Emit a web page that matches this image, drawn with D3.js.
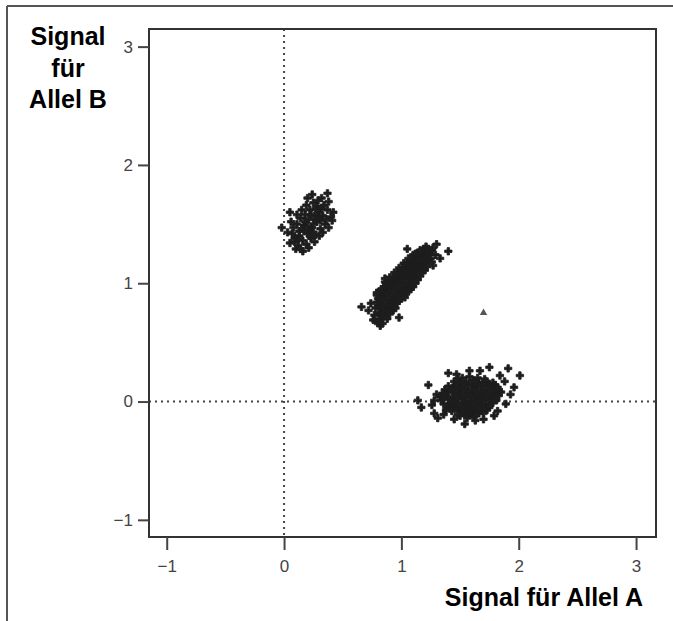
<!DOCTYPE html>
<html>
<head>
<meta charset="utf-8">
<script src="https://cdn.jsdelivr.net/npm/d3@7"></script>
<style>
  body { margin: 0; background: #fff; }
  text { font-family: "Liberation Sans", Arial, Helvetica, sans-serif; }
</style>
</head>
<body>
<div id="chart"></div>
<script>
// genotype clusters: [signal allele A, signal allele B]
const clusterBB = [
    [0.37,1.76],[0.32,1.72],[0.20,1.72],[0.05,1.60],[-0.02,1.47],[0.16,1.27],[0.10,1.29],[0.41,1.53],
    [0.42,1.60],[0.07,1.42],[0.05,1.34],[0.25,1.68],[0.28,1.65],[0.34,1.66],[0.38,1.69],[0.30,1.60],
    [0.22,1.62],[0.18,1.58],[0.26,1.57],[0.33,1.57],[0.37,1.62],[0.14,1.55],[0.21,1.54],[0.28,1.52],
    [0.35,1.50],[0.11,1.50],[0.17,1.49],[0.24,1.47],[0.31,1.46],[0.38,1.47],[0.13,1.44],[0.20,1.42],
    [0.27,1.41],[0.09,1.38],[0.16,1.36],[0.23,1.38],[0.30,1.40],[0.12,1.32],[0.19,1.33],[0.26,1.35],
    [0.08,1.47],[0.15,1.62],[0.24,1.75],[0.29,1.70],[0.40,1.56],[0.33,1.43],[0.06,1.52],[0.13,1.40],
    [0.22,1.45],[0.27,1.63],[0.19,1.66],[0.36,1.54],[0.03,1.43],[0.11,1.58],[0.17,1.44],[0.25,1.50],
    [0.31,1.53],[0.09,1.35],[0.21,1.30],[0.14,1.29],[0.23,1.58],[0.29,1.56],[0.18,1.52],[0.25,1.43],
    [0.20,1.48],[0.27,1.54],[0.15,1.46],[0.22,1.40],[0.32,1.63],[0.12,1.37]
];

const clusterAB = [
    [0.78,0.79],[0.79,0.84],[0.77,0.73],[0.80,0.81],[0.81,0.75],[0.80,0.87],[0.82,0.83],[0.83,0.78],
    [0.82,0.89],[0.83,0.71],[0.84,0.86],[0.85,0.80],[0.85,0.91],[0.84,0.75],[0.86,0.88],[0.87,0.82],
    [0.86,0.93],[0.87,0.77],[0.88,0.90],[0.89,0.84],[0.88,0.95],[0.89,0.79],[0.90,0.92],[0.91,0.86],
    [0.90,0.97],[0.91,0.82],[0.92,0.94],[0.93,0.88],[0.92,0.99],[0.93,0.84],[0.94,0.96],[0.95,0.90],
    [0.94,1.01],[0.95,0.86],[0.96,0.98],[0.97,0.92],[0.96,1.03],[0.97,0.89],[0.98,1.00],[0.99,0.94],
    [0.98,1.05],[0.99,0.91],[1.00,1.02],[1.01,0.96],[1.00,1.07],[1.01,0.93],[1.02,1.04],[1.03,0.98],
    [1.02,1.09],[1.03,0.96],[1.04,1.06],[1.05,1.00],[1.04,1.11],[1.05,0.98],[1.06,1.08],[1.07,1.02],
    [1.06,1.13],[1.07,1.00],[1.08,1.10],[1.09,1.04],[1.08,1.15],[1.09,1.03],[1.10,1.12],[1.11,1.07],
    [1.10,1.17],[1.11,1.05],[1.12,1.14],[1.13,1.09],[1.12,1.19],[1.14,1.16],[1.15,1.11],[1.14,1.21],
    [1.16,1.18],[1.17,1.13],[1.16,1.23],[1.18,1.20],[1.19,1.15],[1.18,1.25],[1.20,1.22],[1.21,1.17],
    [1.20,1.27],[1.22,1.24],[1.23,1.19],[1.24,1.26],[1.25,1.21],
    [0.79,0.90],[0.78,0.68],[0.81,0.93],[0.82,0.69],[0.83,0.95],[0.84,0.70],[0.85,0.97],[0.86,0.73],
    [0.87,0.99],[0.88,0.75],[0.86,1.01],[0.89,1.01],[0.90,0.77],[0.91,1.03],[0.92,0.79],[0.90,1.05],
    [0.93,1.05],[0.94,0.81],[0.95,1.07],[0.96,0.83],[0.94,1.09],[0.97,1.09],[0.98,0.85],[0.99,1.11],
    [1.00,0.87],[0.98,1.13],[1.01,1.13],[1.02,0.89],[1.03,1.15],[1.04,0.91],[1.02,1.17],[1.05,1.17],
    [1.06,0.93],[1.07,1.19],[1.08,0.95],[1.06,1.21],[1.09,1.21],[1.10,0.97],[1.11,1.23],[1.12,1.00],
    [1.10,1.24],[1.13,1.25],[1.14,1.03],[1.15,1.26],[1.16,1.06],[1.17,1.27],[1.18,1.09],[1.19,1.29],
    [1.20,1.11],[1.22,1.14],[1.23,1.29],[1.26,1.18],[1.26,1.28],
    [1.30,1.33],[1.40,1.27],[1.05,1.29],[1.33,1.21],[0.66,0.80],[0.82,0.64],[0.98,0.71],[0.86,1.04],
    [0.76,0.69],[0.80,0.67],[0.93,0.77],[1.27,1.30],[1.21,1.31],[1.16,1.28],[0.74,0.83],[0.72,0.77],
    [0.90,0.74],[1.03,0.88],[1.27,1.15],[1.12,1.25],[0.88,0.70],[0.84,0.66],[0.79,0.92],[0.95,0.79],
    [1.29,1.24]
];

const clusterAA = [
    [1.52,0.20],[1.58,0.21],[1.65,0.20],[1.71,0.19],
    [1.45,0.17],[1.50,0.16],[1.55,0.17],[1.61,0.18],[1.66,0.16],[1.72,0.17],[1.78,0.16],
    [1.40,0.13],[1.46,0.14],[1.52,0.13],[1.57,0.14],[1.63,0.13],[1.68,0.14],[1.74,0.13],[1.80,0.14],
    [1.37,0.10],[1.43,0.11],[1.49,0.10],[1.54,0.11],[1.60,0.10],[1.65,0.11],[1.71,0.10],[1.77,0.11],[1.83,0.10],
    [1.35,0.07],[1.40,0.08],[1.46,0.07],[1.51,0.08],[1.57,0.07],[1.62,0.08],[1.68,0.07],[1.74,0.08],[1.80,0.07],[1.85,0.08],
    [1.33,0.04],[1.38,0.05],[1.44,0.04],[1.49,0.05],[1.55,0.04],[1.60,0.05],[1.66,0.04],[1.71,0.05],[1.77,0.04],[1.83,0.05],
    [1.34,0.01],[1.40,0.02],[1.46,0.01],[1.52,0.02],[1.58,0.01],[1.63,0.02],[1.69,0.01],[1.75,0.02],[1.81,0.01],
    [1.36,-0.02],[1.42,-0.01],[1.48,-0.02],[1.54,-0.01],[1.60,-0.02],[1.66,-0.01],[1.72,-0.02],[1.78,-0.01],
    [1.39,-0.05],[1.45,-0.04],[1.51,-0.05],[1.57,-0.04],[1.63,-0.05],[1.69,-0.04],[1.75,-0.05],
    [1.43,-0.08],[1.49,-0.07],[1.55,-0.08],[1.61,-0.07],[1.67,-0.08],[1.73,-0.07],
    [1.48,-0.11],[1.54,-0.10],[1.60,-0.11],[1.66,-0.10],
    [1.56,-0.14],[1.62,-0.13],
    [1.48,0.19],[1.60,0.15],[1.70,0.155],[1.43,0.09],[1.57,0.09],[1.69,0.085],[1.79,0.09],
    [1.36,0.03],[1.47,0.03],[1.61,0.03],[1.73,0.03],[1.41,-0.03],[1.57,-0.025],[1.69,-0.03],
    [1.46,-0.06],[1.59,-0.06],[1.71,-0.06],[1.52,-0.09],[1.64,-0.09],
    [1.54,0.15],[1.64,0.15],[1.75,0.15],[1.47,0.12],[1.51,0.06],[1.65,0.06],[1.76,0.06],
    [1.43,0.00],[1.55,0.00],[1.67,0.00],[1.79,0.03],[1.50,-0.03],[1.63,-0.03],[1.75,-0.03],
    [1.42,-0.06],[1.55,-0.05],[1.66,-0.06],[1.58,-0.10],[1.70,-0.10],[1.50,-0.12],[1.82,0.12],
    [2.01,0.22],[1.91,0.28],[1.23,0.14],[1.14,0.01],[1.17,-0.05],[1.31,-0.14],[1.54,-0.19],[1.63,-0.16],
    [1.40,0.24],[1.75,0.29],[1.28,-0.10],[1.26,-0.03],[1.84,0.22],[1.88,0.17],[1.93,0.06],[1.89,-0.02],
    [1.82,-0.08],[1.70,-0.15],[1.45,-0.15],[1.36,-0.11],[1.30,0.06],[1.28,0.01],[1.47,0.23],[1.67,0.26],
    [1.58,0.26],[1.79,-0.12],[1.38,-0.07],[1.96,0.12]
];

const outliers = [[1.70, 0.75]];

const tickValues = [-1, 0, 1, 2, 3];

const width = 673, height = 621;
const box = { left: 149, top: 29, right: 656, bottom: 537 };

const svg = d3.select("#chart")
    .append("svg")
    .attr("width", width)
    .attr("height", height);

// outer frame (only top and left edges visible)
svg.append("line")
    .attr("x1", 7).attr("y1", 6).attr("x2", width).attr("y2", 6)
    .attr("stroke", "#555").attr("stroke-width", 2);
svg.append("line")
    .attr("x1", 7).attr("y1", 6).attr("x2", 7).attr("y2", height)
    .attr("stroke", "#555").attr("stroke-width", 2);

const x = d3.scaleLinear()
    .domain([-1.151, 3.17])
    .range([box.left, box.right]);

const y = d3.scaleLinear()
    .domain([-1.145, 3.149])
    .range([box.bottom, box.top]);

// dotted reference lines at 0
svg.append("line")
    .attr("x1", x(0)).attr("x2", x(0))
    .attr("y1", box.top).attr("y2", box.bottom)
    .attr("stroke", "#444").attr("stroke-width", 2)
    .attr("stroke-dasharray", "2,4");
svg.append("line")
    .attr("x1", box.left).attr("x2", box.right)
    .attr("y1", y(0)).attr("y2", y(0))
    .attr("stroke", "#444").attr("stroke-width", 2)
    .attr("stroke-dasharray", "2,4");

// points
const cross = d3.symbol().type(d3.symbolCross).size(30);
const allPoints = clusterBB.concat(clusterAB, clusterAA);

svg.append("g")
    .selectAll("path")
    .data(allPoints)
    .enter()
    .append("path")
    .attr("d", cross)
    .attr("transform", d => `translate(${x(d[0])},${y(d[1])})`)
    .attr("fill", "#1e1e1e")
    .attr("stroke", "#1e1e1e")
    .attr("stroke-width", 0.8)
    .attr("stroke-linejoin", "round");

svg.append("g")
    .selectAll("path")
    .data(outliers)
    .enter()
    .append("path")
    .attr("d", d3.symbol().type(d3.symbolTriangle).size(24))
    .attr("transform", d => `translate(${x(d[0])},${y(d[1])})`)
    .attr("fill", "#555");

// plot box
svg.append("rect")
    .attr("x", box.left)
    .attr("y", box.top)
    .attr("width", box.right - box.left)
    .attr("height", box.bottom - box.top)
    .attr("fill", "none")
    .attr("stroke", "#333")
    .attr("stroke-width", 2);

// axes
const fmt = d3.format("d");

const xAxis = svg.append("g")
    .attr("transform", `translate(0,${box.bottom})`)
    .call(d3.axisBottom(x).tickValues(tickValues).tickFormat(fmt).tickSize(13).tickPadding(10));

const yAxis = svg.append("g")
    .attr("transform", `translate(${box.left},0)`)
    .call(d3.axisLeft(y).tickValues(tickValues).tickFormat(fmt).tickSize(11).tickPadding(5));

[xAxis, yAxis].forEach(ax => {
    ax.select(".domain").remove();
    ax.selectAll(".tick line").attr("stroke", "#444").attr("stroke-width", 2);
    ax.selectAll(".tick text")
        .attr("fill", "#444")
        .style("font-size", "17px")
        .style("font-family", "'Liberation Sans', Arial, sans-serif");
});

// axis titles
svg.append("text")
    .attr("x", 643)
    .attr("y", 606)
    .attr("text-anchor", "end")
    .style("font-size", "25px")
    .style("font-weight", "bold")
    .text("Signal für Allel A");

const yTitle = ["Signal", "für", "Allel B"];
svg.append("g")
    .selectAll("text")
    .data(yTitle)
    .enter()
    .append("text")
    .attr("x", 68)
    .attr("y", (d, i) => 45 + i * 31.5)
    .attr("text-anchor", "middle")
    .style("font-size", "25px")
    .style("font-weight", "bold")
    .text(d => d);
</script>
</body>
</html>
